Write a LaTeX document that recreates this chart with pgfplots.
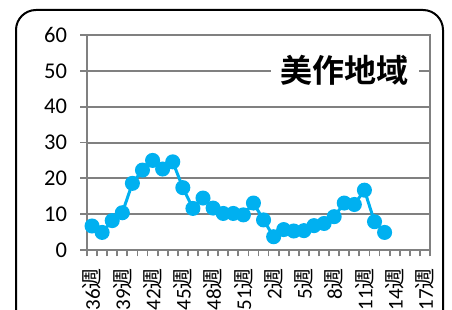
\documentclass[border=0pt]{standalone}
\usepackage{fontspec}
\setmainfont{Carlito}
\newfontfamily\jp[BoldFont={Noto Sans CJK JP Bold}]{Noto Sans CJK JP}
\usepackage{pgfplots}
\usepackage{pgfplotstable}
\pgfplotsset{compat=1.18}
\definecolor{lineblue}{RGB}{0,176,240}
\definecolor{gridgray}{RGB}{128,128,128}
\pgfplotstableread{
x y
1 6.7
2 4.9
3 8.2
4 10.4
5 18.6
6 22.3
7 25.0
8 22.6
9 24.6
10 17.4
11 11.6
12 14.5
13 11.7
14 10.2
15 10.2
16 9.8
17 13.1
18 8.4
19 3.7
20 5.7
21 5.3
22 5.4
23 6.8
24 7.4
25 9.3
26 13.1
27 12.7
28 16.7
29 7.9
30 4.9
}\datatable
\begin{document}
\begin{tikzpicture}[x=1pt,y=1pt]
\draw[line width=2pt, rounded corners=20pt] (16,-40) rectangle (443,300);
\begin{axis}[
  at={(87pt,60pt)}, anchor=south west,
  scale only axis, width=343pt, height=215pt,
  xmin=0.5, xmax=34.5, ymin=0, ymax=60,
  ytick={0,10,...,60},
  ymajorgrids,
  grid style={color=gridgray, line width=2pt},
  axis line style={gridgray, line width=2pt},
  xtick={0.5,1.5,...,34.5},
  xticklabels={},
  xtick pos=bottom, ytick pos=left,
  tick align=outside,
  major tick length=6.5pt,
  tick style={gridgray, line width=1.8pt},
  extra x ticks={1,4,...,34},
  extra x tick labels={36{\jp 週},39{\jp 週},42{\jp 週},45{\jp 週},48{\jp 週},51{\jp 週},2{\jp 週},5{\jp 週},8{\jp 週},11{\jp 週},14{\jp 週},17{\jp 週}},
  extra x tick style={major tick length=0pt, grid=none},
  xticklabel style={yshift=-17pt, rotate=90, anchor=east, font=\fontsize{21}{21}\selectfont, inner sep=1pt},
  yticklabel style={anchor=east, font=\fontsize{22.5}{22.5}\selectfont, xshift=-10pt},
  /pgf/number format/assume math mode=true,
]
\addplot[color=lineblue, line width=3pt, mark=*, mark size=6pt, mark options={solid, fill=lineblue}] table {\datatable};
\node[fill=white, inner xsep=10pt, inner ysep=2pt, font=\jp\bfseries\fontsize{32}{32}\selectfont] at (rel axis cs:0.752,0.835) {美作地域};
\end{axis}
\pgfresetboundingbox
\path[use as bounding box] (0,0) rectangle (452,310);
\end{tikzpicture}
\end{document}
